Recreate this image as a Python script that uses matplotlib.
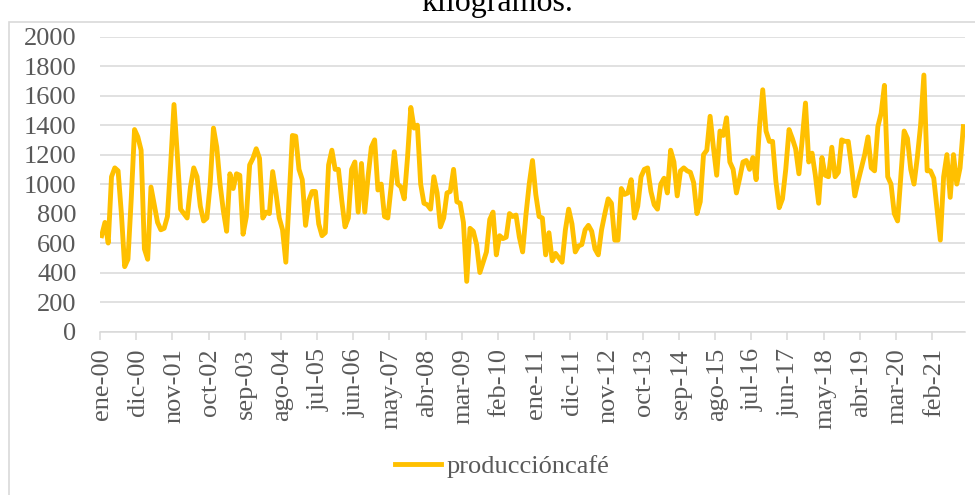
import matplotlib
matplotlib.use("Agg")
import matplotlib.pyplot as plt
from matplotlib.patches import Rectangle

# Producción mensual de café (kg), ene-00 .. nov-21
produccion = [
    650, 740, 600, 1050, 1110, 1090, 800, 440, 490, 900, 1370, 1320,
    1230, 560, 490, 980, 860, 740, 690, 700, 780, 1140, 1540, 1200,
    830, 800, 770, 980, 1110, 1050, 850, 750, 770, 1000, 1380, 1250,
    1000, 820, 680, 1070, 970, 1070, 1060, 660, 780, 1130, 1175, 1240,
    1175, 770, 810, 800, 1085, 940, 770, 690, 470, 900, 1330, 1325,
    1100, 1030, 720, 890, 950, 950, 730, 650, 670, 1130, 1230, 1100,
    1100, 890, 710, 770, 1100, 1150, 810, 1140, 810, 1050, 1250, 1300,
    960, 1000, 780, 770, 980, 1220, 1000, 980, 900, 1180, 1520, 1380,
    1400, 1000, 870, 860, 830, 1050, 940, 710, 770, 940, 950, 1100,
    880, 870, 740, 340, 700, 680, 590, 400, 470, 540, 760, 810,
    520, 650, 630, 640, 800, 780, 790, 640, 540, 790, 1000, 1160,
    930, 780, 770, 520, 670, 480, 530, 500, 470, 690, 830, 730,
    540, 580, 590, 690, 720, 680, 560, 520, 690, 800, 900, 870,
    620, 620, 970, 930, 940, 1030, 770, 850, 1050, 1100, 1110, 950,
    860, 830, 1000, 1040, 940, 1230, 1150, 920, 1090, 1110, 1090, 1080,
    1010, 800, 880, 1200, 1230, 1460, 1250, 1060, 1360, 1330, 1450, 1150,
    1100, 940, 1040, 1150, 1160, 1100, 1180, 1030, 1380, 1640, 1360, 1290,
    1290, 1020, 840, 900, 1100, 1370, 1310, 1240, 1070, 1300, 1550, 1150,
    1210, 1060, 870, 1180, 1060, 1050, 1250, 1050, 1080, 1300, 1290, 1290,
    1120, 920, 1020, 1110, 1200, 1320, 1110, 1090, 1390, 1480, 1670, 1050,
    1000, 800, 750, 1060, 1360, 1310, 1100, 1000, 1180, 1400, 1740, 1090,
    1090, 1040, 830, 620, 1050, 1200, 910, 1200, 1000, 1110, 1390,
]

etiquetas = ["ene-00", "dic-00", "nov-01", "oct-02", "sep-03", "ago-04",
             "jul-05", "jun-06", "may-07", "abr-08", "mar-09", "feb-10",
             "ene-11", "dic-11", "nov-12", "oct-13", "sep-14", "ago-15",
             "jul-16", "jun-17", "may-18", "abr-19", "mar-20", "feb-21"]
paso = 11
yticks = list(range(0, 2001, 200))

AMARILLO = "#FFC000"
GRIS = "#595959"
REJILLA = "#d9d9d9"

plt.rcParams["font.family"] = ["Liberation Serif", "DejaVu Serif"]

fig = plt.figure(figsize=(9.75, 4.95), dpi=100)

# marco del área del gráfico (se corta por abajo y a la derecha)
fig.patches.append(Rectangle((9 / 975, -0.1), 1.2, 1.1 - 22 / 495,
                             transform=fig.transFigure, fill=False,
                             edgecolor=REJILLA, linewidth=1.2))

# título cortado en el borde superior
fig.text(0.510, 1 - 11 / 495, "kilogramos.", ha="center", va="baseline",
         fontsize=23, color="black")

ax = fig.add_axes([100 / 975, 1 - 331.5 / 495, 865 / 975, 294.8 / 495])
x = list(range(len(produccion)))
ax.plot(x, produccion, color=AMARILLO, linewidth=3.5,
        solid_joinstyle="round", label="producciónca" "fé")

ax.set_xlim(-0.5, len(produccion) - 0.5)
ax.set_ylim(0, 2000)
ax.set_yticks(yticks)
ax.set_yticklabels([str(v) for v in yticks])
ax.grid(axis="y", color=REJILLA, linewidth=1.1)
ax.set_axisbelow(True)

ax.set_xticks([k * paso for k in range(len(etiquetas))])
ax.set_xticklabels(etiquetas, rotation=90)
ax.set_xticks([k * paso - 0.5 for k in range(len(etiquetas) + 1)
               if k * paso - 0.5 <= len(produccion) - 0.5], minor=True)
ax.tick_params(axis="x", which="major", length=0, pad=12, labelsize=19,
               labelcolor=GRIS)
ax.tick_params(axis="x", which="minor", length=6, width=1.1, color=REJILLA)
ax.tick_params(axis="y", length=0, pad=17, labelsize=19, labelcolor=GRIS)

for s in ["top", "right", "left"]:
    ax.spines[s].set_visible(False)
ax.spines["bottom"].set_color(REJILLA)
ax.spines["bottom"].set_linewidth(1.1)

leg = fig.legend(loc="center", bbox_to_anchor=(0.515, 1 - 466 / 495),
                 frameon=False, fontsize=19, handlelength=1.75,
                 handletextpad=0.2)
for t in leg.get_texts():
    t.set_color(GRIS)

fig.savefig("out.png", dpi=100)
